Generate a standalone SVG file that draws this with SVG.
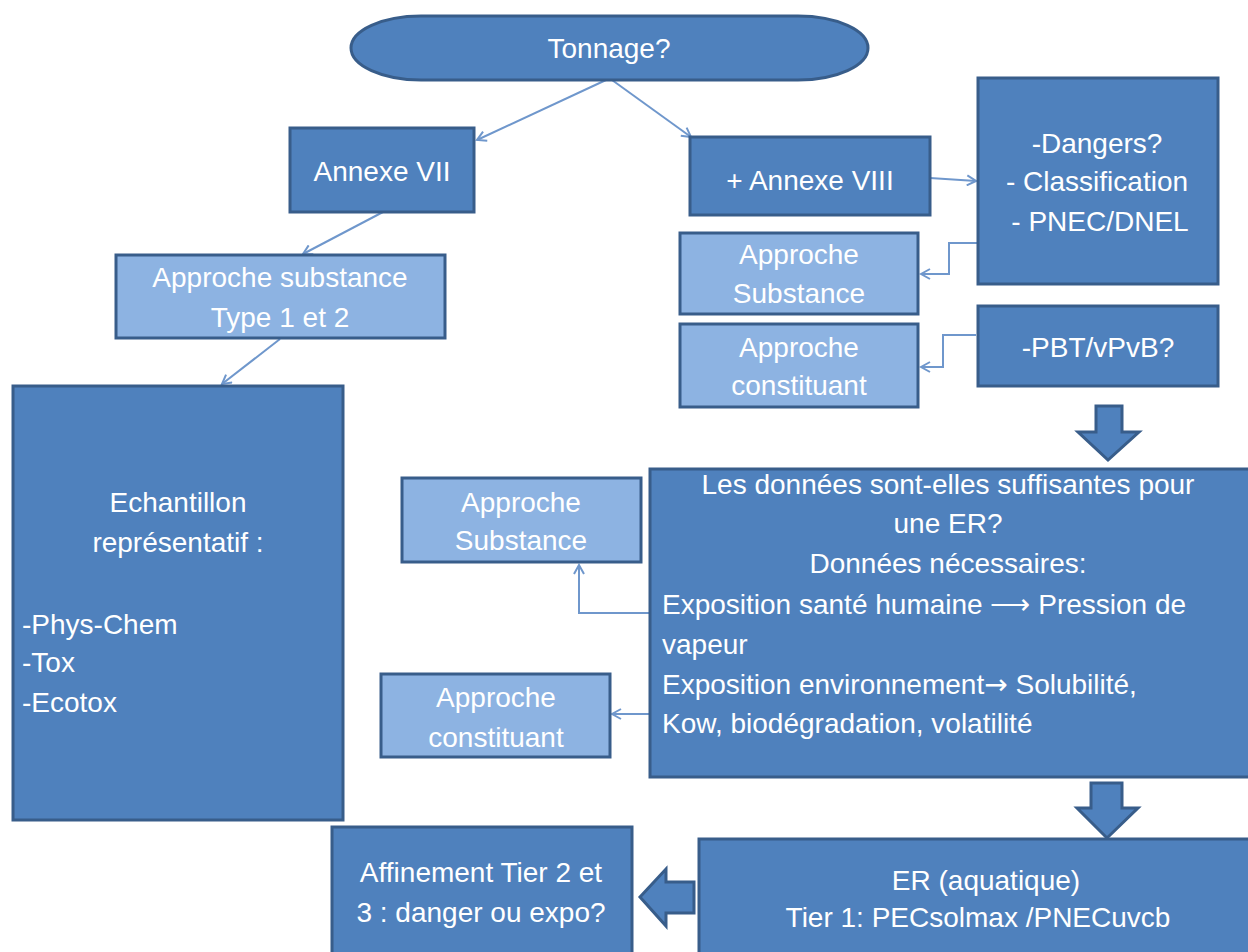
<svg xmlns="http://www.w3.org/2000/svg" width="1248" height="952" viewBox="0 0 1248 952">
<defs>
<style>
.dk{fill:#4f81bd;stroke:#385d8a;stroke-width:3}
.lt{fill:#8db3e2;stroke:#385d8a;stroke-width:3}
.t{font-family:"Liberation Sans",Arial,sans-serif;font-size:28px;fill:#ffffff;text-anchor:middle}
.tl{font-family:"Liberation Sans",Arial,sans-serif;font-size:28px;fill:#ffffff;text-anchor:start}
.c{fill:none;stroke:#6f97cc;stroke-width:2}
.ba{fill:#4f81bd;stroke:#385d8a;stroke-width:3;stroke-linejoin:miter}
</style>
<marker id="ah" markerWidth="12" markerHeight="12" refX="10" refY="6" orient="auto" markerUnits="userSpaceOnUse">
<path d="M1,1 L10,6 L1,11" fill="none" stroke="#6f97cc" stroke-width="2"/>
</marker>
</defs>
<rect width="1248" height="952" fill="#ffffff"/>

<g id="connectors">
<line class="c" x1="606" y1="80" x2="477" y2="140" marker-end="url(#ah)"/>
<line class="c" x1="612" y1="80" x2="691" y2="137" marker-end="url(#ah)"/>
<line class="c" x1="930" y1="178" x2="976" y2="181" marker-end="url(#ah)"/>
<line class="c" x1="383" y1="212" x2="303" y2="254" marker-end="url(#ah)"/>
<line class="c" x1="280" y1="339" x2="222" y2="384" marker-end="url(#ah)"/>
<polyline class="c" points="979,243 949,243 949,274 921,274" marker-end="url(#ah)"/>
<polyline class="c" points="976,335 943,335 943,367 921,367" marker-end="url(#ah)"/>
<polyline class="c" points="649,613 579,613 579,565" marker-end="url(#ah)"/>
<line class="c" x1="649" y1="714" x2="612" y2="714" marker-end="url(#ah)"/>
<path class="ba" d="M1096,406 L1122,406 L1122,432 L1139,432 L1108,460 L1078,432 L1096,432 Z"/>
<path class="ba" d="M1091,783 L1122,783 L1122,808 L1138,808 L1107,838 L1077,808 L1091,808 Z"/>
<path class="ba" d="M694,882 L666,882 L666,869 L640,897 L666,926 L666,913 L694,913 Z"/>
</g>

<g id="tonnage">
<rect class="dk" x="351" y="16" width="517" height="64" rx="70" ry="32"/>
<text class="t" x="609" y="58">Tonnage?</text>
</g>

<g id="annexe7">
<rect class="dk" x="290" y="128" width="184" height="84"/>
<text class="t" x="382" y="181">Annexe VII</text>
</g>

<g id="annexe8">
<rect class="dk" x="690" y="137" width="240" height="78"/>
<text class="t" x="810" y="190">+ Annexe VIII</text>
</g>

<g id="dangers">
<rect class="dk" x="978" y="78" width="240" height="206"/>
<text class="t" x="1097" y="153">-Dangers?</text>
<text class="t" x="1097" y="191">- Classification</text>
<text class="t" x="1100" y="231">- PNEC/DNEL</text>
</g>

<g id="approche-substance-r">
<rect class="lt" x="680" y="233" width="238" height="81"/>
<text class="t" x="799" y="264">Approche</text>
<text class="t" x="799" y="303">Substance</text>
</g>

<g id="approche-constituant-r">
<rect class="lt" x="680" y="324" width="238" height="83"/>
<text class="t" x="799" y="357">Approche</text>
<text class="t" x="799" y="395">constituant</text>
</g>

<g id="pbt">
<rect class="dk" x="978" y="306" width="240" height="80"/>
<text class="t" x="1098" y="357">-PBT/vPvB?</text>
</g>

<g id="approche-type">
<rect class="lt" x="116" y="255" width="329" height="83"/>
<text class="t" x="280" y="287">Approche substance</text>
<text class="t" x="280" y="327">Type 1 et 2</text>
</g>

<g id="echantillon">
<rect class="dk" x="13" y="386" width="330" height="434"/>
<text class="t" x="178" y="512">Echantillon</text>
<text class="t" x="178" y="552">représentatif :</text>
<text class="tl" x="22" y="634">-Phys-Chem</text>
<text class="tl" x="22" y="672">-Tox</text>
<text class="tl" x="22" y="712">-Ecotox</text>
</g>

<g id="donnees">
<rect class="dk" x="650" y="469" width="600" height="308"/>
<text class="t" x="948" y="494">Les données sont-elles suffisantes pour</text>
<text class="t" x="948" y="533">une ER?</text>
<text class="t" x="948" y="573">Données nécessaires:</text>
<text class="tl" x="662" y="614">Exposition santé humaine ⟶ Pression de</text>
<text class="tl" x="662" y="654">vapeur</text>
<text class="tl" x="662" y="694">Exposition environnement<tspan font-family="DejaVu Sans, sans-serif">→</tspan> Solubilité,</text>
<text class="tl" x="662" y="733">Kow, biodégradation, volatilité</text>
</g>

<g id="approche-substance-l">
<rect class="lt" x="402" y="478" width="239" height="84"/>
<text class="t" x="521" y="512">Approche</text>
<text class="t" x="521" y="550">Substance</text>
</g>

<g id="approche-constituant-l">
<rect class="lt" x="381" y="674" width="229" height="83"/>
<text class="t" x="496" y="707">Approche</text>
<text class="t" x="496" y="747">constituant</text>
</g>

<g id="er">
<rect class="dk" x="699" y="839" width="552" height="116"/>
<text class="t" x="986" y="890">ER (aquatique)</text>
<text class="t" x="978" y="927">Tier 1: PECsolmax /PNECuvcb</text>
</g>

<g id="affinement">
<rect class="dk" x="332" y="827" width="300" height="128"/>
<text class="t" x="481" y="882">Affinement Tier 2 et</text>
<text class="t" x="481" y="922">3 : danger ou expo?</text>
</g>
</svg>
